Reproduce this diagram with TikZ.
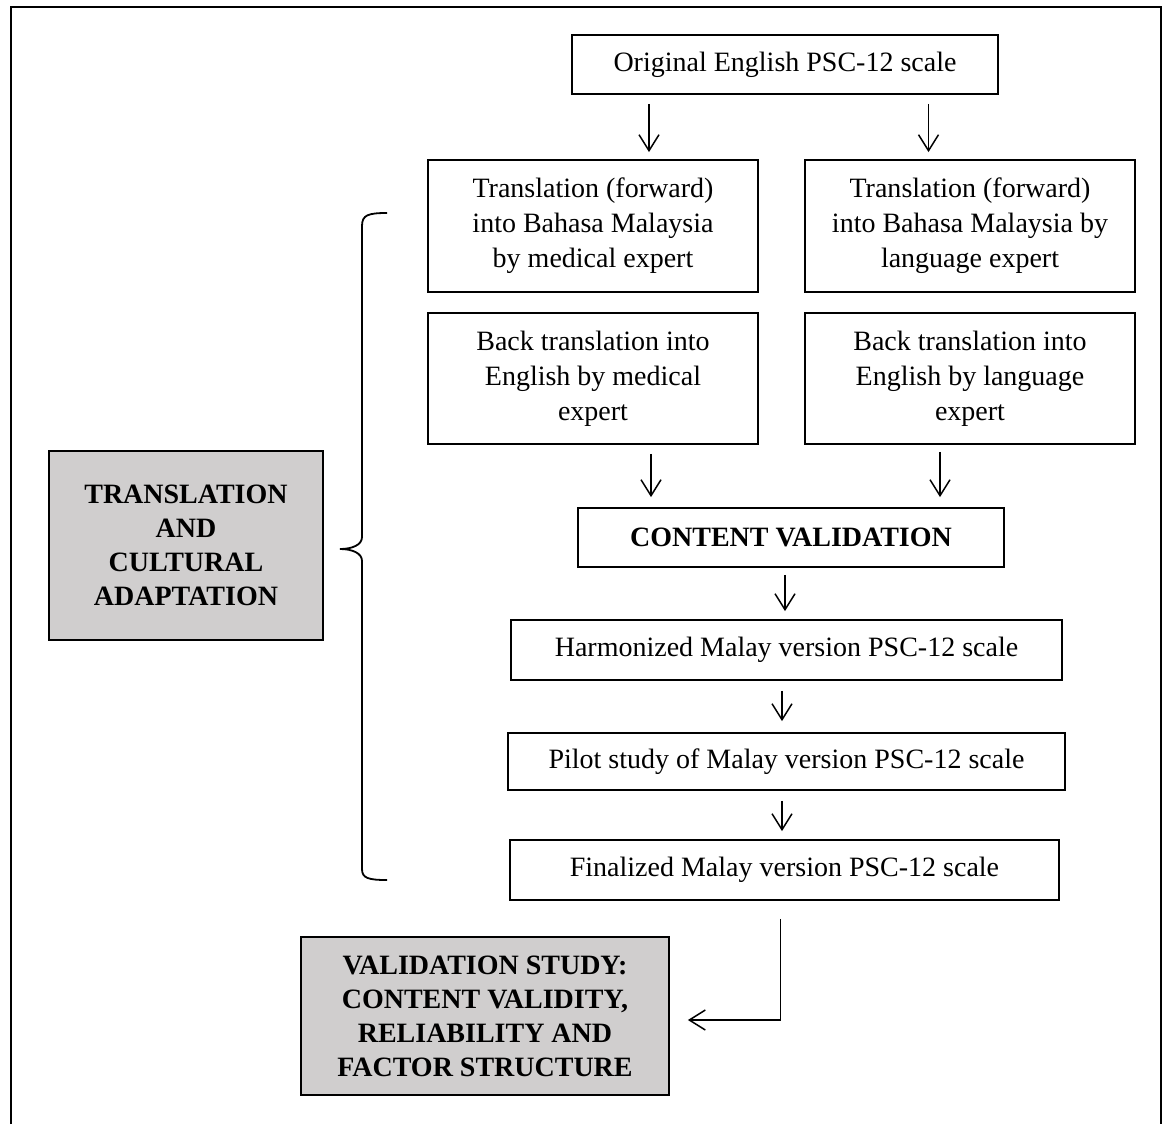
\documentclass[tikz,border=0pt]{standalone}
\usepackage{fontspec}
\setmainfont{Liberation Serif}
\usetikzlibrary{arrows.meta}
\definecolor{boxgray}{RGB}{208,206,206}

\begin{document}
\begin{tikzpicture}[x=0.5pt,y=-0.5pt,
    box/.style={draw,line width=0.9pt,align=center,inner sep=0pt,font=\fontsize{14}{17.5}\selectfont},
    graybox/.style={box,fill=boxgray,font=\fontsize{14}{17}\selectfont\bfseries},
    arr/.style={-{Straight Barb[length=8pt,width=10pt]},line width=0.75pt}]
    \useasboundingbox (0,0) rectangle (1165,1124);
    \draw[line width=1.2pt] (11,1124) -- (11,7) -- (1161,7) -- (1161,1124);  % Frame

    \node[box,minimum width=213pt,minimum height=29.5pt] (orig) at (785,64.5) {Original English PSC-12 scale};
    \node[box,minimum width=165pt,minimum height=66pt] (fwdmed) at (593,226) {Translation (forward)\\into Bahasa Malaysia\\by medical expert};
    \node[box,minimum width=165pt,minimum height=66pt] (fwdlang) at (970,226) {Translation (forward)\\into Bahasa Malaysia by\\language expert};
    \node[box,minimum width=165pt,minimum height=65.5pt] (backmed) at (593,378.5) {Back translation into\\English by medical\\expert};
    \node[box,minimum width=165pt,minimum height=65.5pt] (backlang) at (970,378.5) {Back translation into\\English by language\\expert};
    \node[box,minimum width=213pt,minimum height=29.5pt,font=\fontsize{14}{17.5}\selectfont\bfseries] (content) at (791,537.5) {CONTENT VALIDATION};
    \node[box,minimum width=275.5pt,minimum height=30pt] (harmon) at (786.5,650) {Harmonized Malay version PSC-12 scale};
    \node[box,minimum width=278.5pt,minimum height=28.5pt] (pilot) at (786.5,761.5) {Pilot study of Malay version PSC-12 scale};
    \node[box,minimum width=274.5pt,minimum height=30pt] (final) at (784.5,870) {Finalized Malay version PSC-12 scale};

    \node[graybox,minimum width=137pt,minimum height=94.5pt] (transl) at (186,545.5) {TRANSLATION\\AND\\CULTURAL\\ADAPTATION};
    \node[graybox,minimum width=184pt,minimum height=79pt] (valid) at (485,1016) {VALIDATION STUDY:\\CONTENT VALIDITY,\\RELIABILITY AND\\FACTOR STRUCTURE};

    % x positions of the arrows
    \coordinate (xa) at (649,0);
    \coordinate (xb) at (928.5,0);
    \coordinate (xc) at (651,0);
    \coordinate (xd) at (940,0);
    \coordinate (xe) at (785,0);
    \coordinate (xf) at (782,0);
    \coordinate (xg) at (780.5,0);

    \foreach \xx/\tgt in {xa/fwdmed,xb/fwdlang}{
        \draw[arr,shorten <=4.5pt,shorten >=3.5pt] (orig.south -| \xx) -- (\tgt.north -| \xx);
    }
    \draw[arr,shorten <=4.5pt,shorten >=5pt] (backmed.south -| xc) -- (content.north -| xc);
    \draw[arr,shorten <=3.5pt,shorten >=5pt] (backlang.south -| xd) -- (content.north -| xd);
    \draw[arr,shorten <=3.5pt,shorten >=4pt] (content.south -| xe) -- (harmon.north -| xe);
    \draw[arr,shorten <=5pt,shorten >=5.5pt] (harmon.south -| xf) -- (pilot.north -| xf);
    \draw[arr,shorten <=5pt,shorten >=4pt] (pilot.south -| xf) -- (final.north -| xf);
    \draw[arr,shorten <=9pt,shorten >=9pt] (final.south -| xg) |- ([yshift=-2pt]valid.east);

    % brace
    \draw[line width=0.9pt] (387,213) .. controls (368,213) and (362,215) .. (362,226) -- (362,537)
        .. controls (362,545) and (352,549) .. (340,549) .. controls (352,549) and (362,553) .. (362,561)
        -- (362,869) .. controls (362,878) and (368,880) .. (387,880);
\end{tikzpicture}
\end{document}
